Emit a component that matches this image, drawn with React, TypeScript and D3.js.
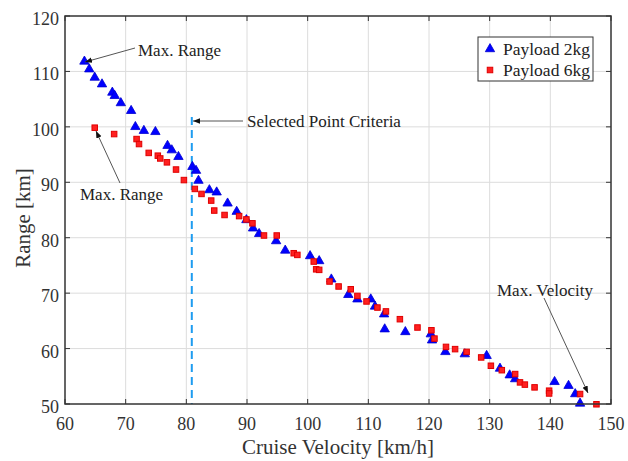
import React from "react";
import * as d3 from "d3";

const xTicks = [60, 70, 80, 90, 100, 110, 120, 130, 140, 150];
const yTicks = [50, 60, 70, 80, 90, 100, 110, 120];

const payload2Vel = [63.2, 64.0, 64.9, 66.1, 67.8, 68.2, 69.2, 70.9, 71.6, 73.0, 74.9, 76.9, 77.6, 78.7, 81.0, 81.6, 82.0, 83.8, 85.0, 86.8, 88.3, 89.9, 91.0, 92.0, 94.8, 96.3, 100.4, 101.9, 103.9, 106.7, 108.2, 110.4, 111.1, 112.6, 112.7, 116.1, 120.3, 120.5, 122.7, 125.9, 129.5, 131.7, 133.3, 134.2, 140.7, 143.0, 144.1, 144.9];
const payload2Range = [111.8, 110.4, 108.9, 107.7, 106.2, 105.6, 104.3, 102.9, 100.0, 99.3, 99.1, 96.6, 95.8, 94.6, 92.8, 92.1, 90.3, 88.6, 88.2, 86.2, 84.7, 83.2, 81.7, 80.7, 79.4, 77.7, 76.7, 75.8, 72.5, 69.7, 68.9, 68.9, 67.6, 66.2, 63.5, 63.0, 62.6, 61.5, 59.4, 59.0, 58.7, 56.4, 55.2, 54.5, 54.0, 53.3, 51.8, 50.1];

const payload6Vel = [64.9, 68.1, 71.8, 72.2, 73.8, 75.3, 75.7, 76.8, 78.3, 79.6, 81.4, 82.5, 84.1, 84.6, 86.3, 88.7, 89.9, 90.9, 92.8, 94.9, 97.7, 98.3, 101.0, 101.4, 101.9, 103.6, 105.1, 107.1, 108.2, 109.7, 111.5, 112.9, 115.2, 118.1, 120.4, 120.9, 122.8, 124.3, 126.2, 128.6, 130.2, 132.0, 134.2, 135.0, 135.8, 137.4, 139.8, 139.8, 144.9, 147.6];
const payload6Range = [99.85, 98.7, 97.8, 96.9, 95.3, 94.8, 94.3, 93.6, 92.3, 90.4, 88.8, 87.9, 86.7, 84.9, 84.1, 83.9, 83.3, 82.6, 80.4, 80.4, 77.2, 76.9, 75.7, 74.3, 74.2, 72.1, 71.2, 70.7, 69.5, 68.5, 67.4, 66.7, 65.3, 63.8, 63.3, 61.8, 60.3, 59.9, 59.4, 58.4, 56.9, 56.1, 55.4, 53.9, 53.5, 53.0, 52.4, 51.9, 51.8, 49.95];

const seriesNames = ["Payload 2kg", "Payload 6kg"];
const selectedVelocity = 80.9;
const selectedTop = 101.8;

const FONT = "'Liberation Serif', 'Times New Roman', serif";

export default function App() {
  const W = 628, H = 461;
  const L = 65, R = 611, T = 16, B = 404;
  const x = d3.scaleLinear().domain([60, 150]).range([L, R]);
  const y = d3.scaleLinear().domain([50, 120]).range([B, T]);
  const tri = d3.symbol(d3.symbolTriangle, 38)() as string;
  const sq = 5.5;

  const blue = payload2Vel.map((v, i) => [v, payload2Range[i]]);
  const red = payload6Vel.map((v, i) => [v, payload6Range[i]]);

  const annColor = "#555";
  return (
    <svg width={W} height={H} style={{ position: "absolute", left: 0, top: 0, background: "#fff" }} fontFamily={FONT}>
      <defs>
        <marker id="ah" viewBox="0 0 10 10" refX="10" refY="5" markerWidth="7" markerHeight="7" orient="auto-start-reverse" markerUnits="userSpaceOnUse">
          <path d="M0,1 L10,5 L0,9 Z" fill="#111" />
        </marker>
      </defs>
      <rect x={0} y={0} width={W} height={H} fill="#fff" />
      {/* grid */}
      {xTicks.slice(1, -1).map((t) => (
        <line key={"gx" + t} x1={x(t)} x2={x(t)} y1={T} y2={B} stroke="#dcdcdc" strokeWidth={1} />
      ))}
      {yTicks.slice(1, -1).map((t) => (
        <line key={"gy" + t} x1={L} x2={R} y1={y(t)} y2={y(t)} stroke="#dcdcdc" strokeWidth={1} />
      ))}
      {/* ticks */}
      {xTicks.map((t) => (
        <g key={"tx" + t}>
          <line x1={x(t)} x2={x(t)} y1={B} y2={B - 5} stroke="#333" />
          <line x1={x(t)} x2={x(t)} y1={T} y2={T + 5} stroke="#333" />
          <text x={x(t)} y={430} textAnchor="middle" fontSize={18} fill="#333">{t}</text>
        </g>
      ))}
      {yTicks.map((t) => (
        <g key={"ty" + t}>
          <line x1={L} x2={L + 5} y1={y(t)} y2={y(t)} stroke="#333" />
          <line x1={R} x2={R - 5} y1={y(t)} y2={y(t)} stroke="#333" />
          <text x={59} y={y(t) + 3} dominantBaseline="central" textAnchor="end" fontSize={18} fill="#333">{t}</text>
        </g>
      ))}
      {/* selected dashed line */}
      <line x1={x(selectedVelocity)} x2={x(selectedVelocity)} y1={y(selectedTop)} y2={B} stroke="#1e9cf0" strokeWidth={2} strokeDasharray="8,5" />
      {/* markers */}
      {blue.map((d, i) => (
        <path key={"b" + i} d={tri} transform={`translate(${x(d[0])},${y(d[1])})`} fill="#0000ff" stroke="#0000d0" strokeWidth={0.8} />
      ))}
      {red.map((d, i) => (
        <rect key={"r" + i} x={x(d[0]) - sq / 2} y={y(d[1]) - sq / 2} width={sq} height={sq} fill="#ff2020" stroke="#e00000" strokeWidth={1} />
      ))}
      {/* axes box */}
      <rect x={L} y={T} width={R - L} height={B - T} fill="none" stroke="#333" strokeWidth={1.5} />
      {/* labels */}
      <text x={(L + R) / 2} y={454} textAnchor="middle" fontSize={21} fill="#333">Cruise Velocity [km/h]</text>
      <text transform={`translate(30,${(T + B) / 2 + 8}) rotate(-90)`} textAnchor="middle" fontSize={21} fill="#333">Range [km]</text>
      {/* annotations */}
      <line x1={135} y1={48} x2={85} y2={62} stroke={annColor} strokeWidth={1} markerEnd="url(#ah)" />
      <text x={138} y={56} fontSize={17} fill="#222">Max. Range</text>
      <line x1={243} y1={121} x2={193} y2={121} stroke={annColor} strokeWidth={1} markerEnd="url(#ah)" />
      <text x={247} y={127} fontSize={17} fill="#222">Selected Point Criteria</text>
      <line x1={120} y1={183} x2={96} y2={131} stroke={annColor} strokeWidth={1} markerEnd="url(#ah)" />
      <text x={80} y={200} fontSize={17} fill="#222">Max. Range</text>
      <line x1={544} y1={298} x2={588} y2={393} stroke={annColor} strokeWidth={1} markerEnd="url(#ah)" />
      <text x={497} y={296} fontSize={17} fill="#222">Max. Velocity</text>
      {/* legend */}
      <rect x={478} y={37} width={115} height={44} fill="#fff" stroke="#333" strokeWidth={1} />
      <path d={tri} transform="translate(490,49)" fill="#0000ff" stroke="#0000d0" strokeWidth={0.8} />
      <text x={503} y={55} fontSize={17.5} fill="#222">{seriesNames[0]}</text>
      <rect x={490 - sq / 2} y={70 - sq / 2} width={sq} height={sq} fill="#ff2020" stroke="#e00000" />
      <text x={503} y={76} fontSize={17.5} fill="#222">{seriesNames[1]}</text>
    </svg>
  );
}
